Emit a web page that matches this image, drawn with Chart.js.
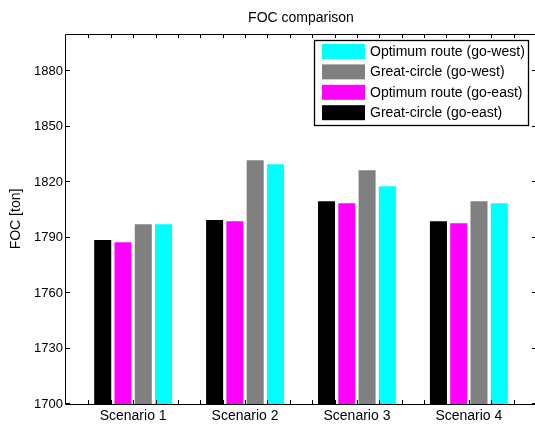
<!DOCTYPE html>
<html>
<head>
<meta charset="utf-8">
<title>FOC comparison</title>
<script src="https://cdn.jsdelivr.net/npm/chart.js@4.4.1/dist/chart.umd.min.js"></script>
<style>
html,body{margin:0;padding:0;background:#fff;overflow:hidden}
#wrap{width:545px;height:424px}
</style>
</head>
<body>
<div id="wrap"><canvas id="chart" width="545" height="424"></canvas></div>
<script>
// scenarios on the x axis (positions 1..4)
const scenarios = ['Scenario 1', 'Scenario 2', 'Scenario 3', 'Scenario 4'];
const scenarioPos = [1, 2, 3, 4];

// fuel oil consumption [ton]
const gcEast  = [1788.6, 1799.4, 1809.6, 1798.8];
const optEast = [1787.5, 1798.8, 1808.5, 1797.7];
const gcWest  = [1797.2, 1831.7, 1826.3, 1809.6];
const optWest = [1797.2, 1829.6, 1817.7, 1808.5];

const seriesLabels = ['Great-circle (go-east)', 'Optimum route (go-east)', 'Great-circle (go-west)', 'Optimum route (go-west)'];
const seriesColors = ['#000000', '#ff00ff', '#808080', '#00ffff'];

const yTicks = [1700, 1730, 1760, 1790, 1820, 1850, 1880];
const yMin = 1700, yMax = 1900;
const xMin = 0.4, xMax = 4.6, minorStep = 0.2;

const FONT = '"Liberation Sans", Arial, Helvetica, sans-serif';

function toPoints(vals){
  return vals.map((v, i) => ({x: scenarioPos[i], y: v}));
}

// box around the axes with inward ticks on all four sides (matlab style)
const frame = {
  id: 'frame',
  afterDatasetsDraw(chart){
    const {ctx, chartArea: a, scales: {x, y}} = chart;
    ctx.save();
    ctx.strokeStyle = '#000';
    ctx.lineWidth = 1;
    ctx.beginPath();
    ctx.rect(a.left - 0.5, a.top + 0.5, a.right - a.left, a.bottom - a.top);
    yTicks.forEach(v => {
      const py = Math.round(y.getPixelForValue(v)) - 0.5;
      ctx.moveTo(a.left, py); ctx.lineTo(a.left + 4, py);
      ctx.moveTo(a.right, py); ctx.lineTo(a.right - 4, py);
    });
    for(let v = xMin + minorStep; v < xMax - 1e-6; v += minorStep){
      const px = Math.round(x.getPixelForValue(v)) + 0.5;
      ctx.moveTo(px, a.bottom); ctx.lineTo(px, a.bottom - 4);
      ctx.moveTo(px, a.top); ctx.lineTo(px, a.top + 4);
    }
    ctx.stroke();
    ctx.restore();
  }
};

// legend box in the upper right corner, last series first
const boxLegend = {
  id: 'boxLegend',
  afterDraw(chart){
    const {ctx} = chart;
    const ds = chart.data.datasets.slice().reverse();
    const bx = 314, by = 40, bw = 214, bh = 85;
    ctx.save();
    ctx.fillStyle = '#fff';
    ctx.fillRect(bx, by, bw, bh);
    ctx.strokeStyle = '#000';
    ctx.lineWidth = 1.3;
    ctx.strokeRect(bx + 0.5, by + 0.5, bw, bh);
    ctx.font = '14px ' + FONT;
    ctx.textBaseline = 'middle';
    ds.forEach((d, i) => {
      const ry = by + 4 + i * 20.4;
      ctx.fillStyle = d.backgroundColor;
      ctx.fillRect(bx + 8, ry, 43, 15);
      ctx.fillStyle = '#000';
      ctx.fillText(d.label, bx + 56, ry + 8);
    });
    ctx.restore();
  }
};

const series = [gcEast, optEast, gcWest, optWest];

new Chart(document.getElementById('chart'), {
  type: 'bar',
  data: {
    datasets: series.map((vals, i) => ({
      label: seriesLabels[i],
      data: toPoints(vals),
      backgroundColor: seriesColors[i],
      borderWidth: 0,
      base: yMin,
      categoryPercentage: 0.725,
      barPercentage: 0.84
    }))
  },
  options: {
    responsive: false,
    animation: false,
    layout: {padding: {right: 9}},
    plugins: {
      legend: {display: false},
      tooltip: {enabled: false},
      title: {
        display: true,
        text: 'FOC comparison',
        fullSize: false,
        color: '#000',
        font: {family: FONT, size: 14, weight: 'normal'},
        padding: {top: 10, bottom: 7.2}
      }
    },
    scales: {
      x: {
        type: 'linear',
        min: xMin,
        max: xMax,
        offset: false,
        grid: {display: false, drawTicks: false},
        border: {display: false},
        afterBuildTicks: s => { s.ticks = scenarioPos.map(v => ({value: v})); },
        afterFit: s => { s.height = 20; },
        ticks: {
          autoSkip: false,
          maxRotation: 0,
          padding: 4,
          color: '#000',
          font: {family: FONT, size: 14},
          callback: (v, i) => scenarios[i]
        }
      },
      y: {
        min: yMin,
        max: yMax,
        grid: {display: false, drawTicks: false},
        border: {display: false},
        afterBuildTicks: s => { s.ticks = yTicks.map(v => ({value: v})); },
        afterFit: s => { s.width = 66; },
        ticks: {
          padding: 3,
          color: '#000',
          font: {family: FONT, size: 13},
          callback: v => String(v)
        },
        title: {
          display: true,
          text: 'FOC [ton]',
          color: '#000',
          font: {family: FONT, size: 14},
          padding: {top: 8, bottom: 0}
        }
      }
    }
  },
  plugins: [frame, boxLegend]
});
</script>
</body>
</html>
